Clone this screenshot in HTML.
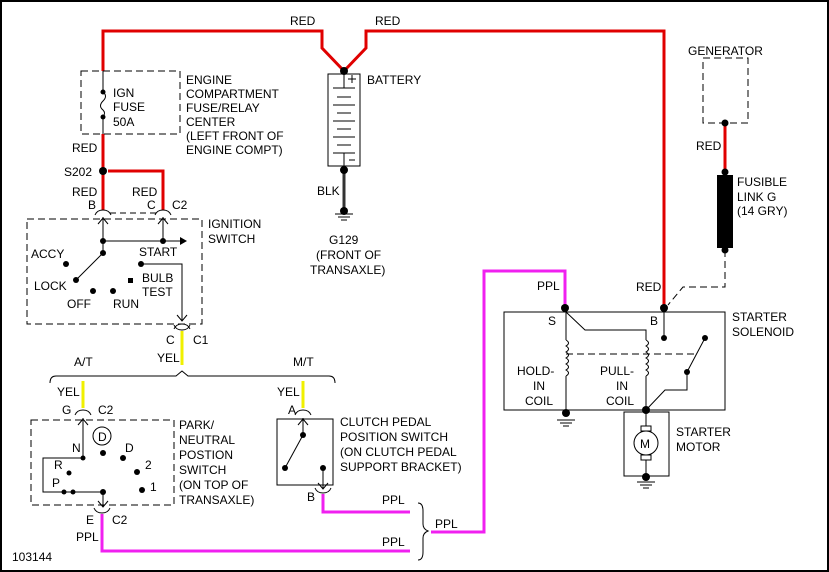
<!DOCTYPE html>
<html><head><style>
html,body{margin:0;padding:0;background:#fff}
svg{display:block}
text{font-family:"Liberation Sans",sans-serif;font-size:12px;fill:#000}
</style></head><body>
<svg width="829" height="572" viewBox="0 0 829 572" xmlns="http://www.w3.org/2000/svg">
<rect x="1" y="1" width="827" height="570" fill="#fff" stroke="#000" stroke-width="2"/>

<!-- RED wires -->
<g fill="none" stroke="#e00000" stroke-width="3">
<polyline points="103,71 103,31 322,31 322,48 344,71 366,48 366,31 664,31 664,308"/>
<line x1="103" y1="134" x2="103" y2="210"/>
<polyline points="108,171 163,171 163,210"/>
<line x1="725" y1="123" x2="725" y2="172"/>
</g>
<!-- Yellow -->
<g stroke="#f0f000" stroke-width="3">
<line x1="182" y1="331" x2="182" y2="365"/>
<line x1="83" y1="381" x2="83" y2="408"/>
<line x1="303" y1="381" x2="303" y2="408"/>
</g>
<!-- Magenta -->
<g fill="none" stroke="#f020f0" stroke-width="3">
<polyline points="431,532 484,532 484,271 565,271 565,308"/>
<polyline points="323,494 323,512 410,512"/>
<polyline points="102,514 102,551 410,551"/>
</g>

<g fill="none" stroke="#000" stroke-width="1">
<!-- fuse box -->
<rect x="81" y="71" width="99" height="63" stroke-dasharray="7,4"/>
<line x1="103" y1="71" x2="103" y2="92"/>
<path d="M103,92 q5,4 0,9 q-5,5 0,9 q3,3 0,7"/>
<line x1="103" y1="117" x2="103" y2="134"/>
<!-- connectors B C top -->
<line x1="110" y1="213" x2="156" y2="213" stroke-dasharray="6,4"/>
<path d="M95,215 q2,-5 8,-5 q6,0 8,5"/><path d="M155,215 q2,-5 8,-5 q6,0 8,5"/>
<!-- ignition switch -->
<rect x="27" y="219" width="175" height="105" stroke-dasharray="7,4"/>
<line x1="103" y1="217" x2="103" y2="253"/><path d="M98,224 l5,-6 l5,6"/>
<line x1="163" y1="217" x2="163" y2="241"/><path d="M158,224 l5,-6 l5,6"/>
<line x1="103" y1="241" x2="182" y2="241"/>
<line x1="103" y1="253" x2="76" y2="280"/>
<polyline points="141,264 182,264 182,321"/><path d="M177,315 l5,6 l5,-6"/>
<path d="M174,329 q2,-5 8,-5 q6,0 8,5"/>
<path d="M174,325 q2,5 8,5 q6,0 8,-5"/>
<!-- bracket AT MT -->
<path d="M50,383 q0,-7 6,-7 L176,376 l6,-5 l6,5 L329,376 q6,0 6,7"/>
<!-- P/N switch -->
<path d="M75,415 q2,-5 8,-5 q6,0 8,5"/>
<rect x="31" y="420" width="143" height="85" stroke-dasharray="7,4"/>
<line x1="83" y1="418" x2="83" y2="458"/><path d="M78,425 l5,-6 l5,6"/>
<circle cx="102" cy="436" r="9"/>
<polyline points="83,458 43,458 43,492 103,492 103,507"/><path d="M98,501 l5,6 l5,-6"/>
<path d="M94,508 q2,5 8,5 q6,0 8,-5"/>
<!-- clutch -->
<path d="M295,415 q2,-5 8,-5 q6,0 8,5"/>
<rect x="277" y="419" width="56" height="66"/>
<line x1="303" y1="418" x2="303" y2="435"/><path d="M298,425 l5,-6 l5,6"/>
<line x1="303" y1="435" x2="285" y2="468"/>
<line x1="323" y1="468" x2="323" y2="489"/><path d="M318,483 l5,6 l5,-6"/>
<path d="M315,488 q2,5 8,5 q6,0 8,-5"/>
<!-- PPL bracket -->
<path d="M418,503 q5,0 5,8 L423,524 q0,5 5,7 q-5,2 -5,7 L423,552 q0,8 -5,8"/>
<!-- battery -->
<rect x="328" y="74" width="32" height="92"/>
<line x1="344" y1="74" x2="344" y2="88"/>
<line x1="333" y1="88" x2="355" y2="88"/>
<line x1="337" y1="97" x2="351" y2="97"/>
<line x1="333" y1="105" x2="355" y2="105"/>
<line x1="337" y1="113" x2="351" y2="113"/>
<line x1="333" y1="121" x2="355" y2="121"/>
<line x1="337" y1="129" x2="351" y2="129"/>
<line x1="333" y1="137" x2="355" y2="137"/>
<line x1="337" y1="145" x2="351" y2="145"/>
<line x1="333" y1="153" x2="355" y2="153"/>
<line x1="344" y1="153" x2="344" y2="166"/>
<line x1="348" y1="79" x2="356" y2="79"/><line x1="352" y1="75" x2="352" y2="83"/>
<line x1="349" y1="160" x2="355" y2="160"/>
<!-- ground batt -->
<line x1="335" y1="214" x2="353" y2="214"/><line x1="338" y1="217" x2="350" y2="217"/><line x1="341" y1="220" x2="347" y2="220"/>
<!-- generator -->
<rect x="703" y="58" width="45" height="65" stroke-dasharray="7,4"/>
<polyline points="725,250 725,287 683,287 668,305" stroke-dasharray="7,4"/>
<!-- solenoid -->
<rect x="504" y="312" width="221" height="98"/>
<line x1="566" y1="312" x2="566" y2="340"/>
<path d="M566,340 q5,3 0,6 q5,3 0,6 q5,3 0,6 q5,3 0,6 q5,3 0,6 q5,3 0,6"/>
<line x1="566" y1="376" x2="566" y2="412"/>
<polyline points="566,312 585,330 646,330 646,340"/>
<path d="M646,340 q5,3 0,6 q5,3 0,6 q5,3 0,6 q5,3 0,6 q5,3 0,6 q5,3 0,6"/>
<line x1="646" y1="376" x2="646" y2="412"/>
<line x1="566" y1="354" x2="697" y2="354" stroke-dasharray="7,4"/>
<line x1="664" y1="312" x2="664" y2="338"/>
<line x1="687" y1="372" x2="705" y2="338"/>
<polyline points="687,372 687,390 665,390 646,410"/>
<!-- motor -->
<rect x="624" y="412" width="45" height="64"/>
<line x1="646" y1="412" x2="646" y2="426"/>
<rect x="641" y="426" width="10" height="5"/>
<circle cx="646" cy="443" r="12"/>
<rect x="641" y="455" width="10" height="5"/>
<line x1="646" y1="460" x2="646" y2="476"/>
<line x1="557" y1="420" x2="575" y2="420"/><line x1="560" y1="423" x2="572" y2="423"/><line x1="563" y1="426" x2="569" y2="426"/>
<line x1="637" y1="482" x2="655" y2="482"/><line x1="640" y1="485" x2="652" y2="485"/><line x1="643" y1="488" x2="649" y2="488"/>
</g>
<line x1="344" y1="166" x2="344" y2="210" stroke="#333" stroke-width="3"/>
<rect x="717" y="175" width="16" height="73" fill="#000"/>
<path d="M182,241 l-7,-4 v8 z" fill="#000" transform="translate(5,0)"/>

<!-- dots -->
<g fill="#000">
<circle cx="344" cy="71" r="4"/><circle cx="344" cy="170" r="4"/><circle cx="344" cy="211" r="4"/>
<circle cx="103" cy="171" r="4"/><circle cx="103" cy="92" r="2.5"/><circle cx="103" cy="117" r="2.5"/>
<circle cx="725" cy="123" r="3.5"/><circle cx="725" cy="172" r="3.5"/><circle cx="725" cy="250" r="3.5"/>
<circle cx="664" cy="308" r="4"/><circle cx="565" cy="308" r="4"/>
<circle cx="103" cy="241" r="3"/><circle cx="163" cy="241" r="3"/><circle cx="103" cy="253" r="3"/>
<circle cx="76" cy="280" r="3"/><circle cx="66" cy="264" r="3"/><circle cx="93" cy="291" r="3"/><circle cx="113" cy="291" r="3"/>
<rect x="128" y="278" width="5" height="5"/><circle cx="141" cy="264" r="3"/>
<circle cx="83" cy="458" r="2.5"/><circle cx="103" cy="453" r="3"/><circle cx="123" cy="458" r="3"/><circle cx="137" cy="472" r="3"/><circle cx="142" cy="490" r="3"/>
<circle cx="69" cy="473" r="2.5"/><circle cx="64" cy="492" r="2.5"/><circle cx="73" cy="492" r="2.5"/><circle cx="103" cy="492" r="3"/>
<circle cx="303" cy="435" r="3"/><circle cx="285" cy="468" r="3"/><circle cx="323" cy="468" r="3"/>
<circle cx="664" cy="338" r="3"/><circle cx="705" cy="338" r="3"/><circle cx="687" cy="372" r="3"/>
<circle cx="646" cy="410" r="4"/><circle cx="566" cy="413" r="4"/><circle cx="646" cy="477" r="4"/>
</g>

<!-- labels -->
<text x="290" y="25">RED</text><text x="375" y="25">RED</text>
<text x="113" y="97">IGN</text><text x="113" y="111">FUSE</text><text x="113" y="126">50A</text>
<text x="186" y="84">ENGINE</text><text x="186" y="98">COMPARTMENT</text><text x="186" y="112">FUSE/RELAY</text><text x="186" y="126">CENTER</text><text x="186" y="140">(LEFT FRONT OF</text><text x="186" y="154">ENGINE COMPT)</text>
<text x="72" y="152">RED</text><text x="64" y="176">S202</text>
<text x="72" y="196">RED</text><text x="132" y="196">RED</text>
<text x="88" y="209">B</text><text x="147" y="209">C</text><text x="172" y="209">C2</text>
<text x="208" y="228">IGNITION</text><text x="208" y="243">SWITCH</text>
<text x="31" y="258">ACCY</text><text x="34" y="290">LOCK</text><text x="67" y="308">OFF</text><text x="113" y="308">RUN</text>
<text x="139" y="256">START</text><text x="142" y="282">BULB</text><text x="142" y="296">TEST</text>
<text x="166" y="344">C</text><text x="193" y="344">C1</text><text x="157" y="362">YEL</text>
<text x="74" y="366">A/T</text><text x="293" y="366">M/T</text>
<text x="57" y="396">YEL</text><text x="62" y="414">G</text><text x="98" y="414">C2</text>
<text x="277" y="396">YEL</text><text x="288" y="414">A</text>
<text x="98" y="441" font-size="11">D</text>
<text x="72" y="452">N</text><text x="125" y="452">D</text><text x="145" y="469">2</text><text x="150" y="491">1</text>
<text x="54" y="469">R</text><text x="52" y="487">P</text>
<text x="179" y="429">PARK/</text><text x="179" y="444">NEUTRAL</text><text x="179" y="459">POSTION</text><text x="179" y="474">SWITCH</text><text x="179" y="489">(ON TOP OF</text><text x="179" y="504">TRANSAXLE)</text>
<text x="340" y="426">CLUTCH PEDAL</text><text x="340" y="441">POSITION SWITCH</text><text x="340" y="456">(ON CLUTCH PEDAL</text><text x="340" y="471">SUPPORT BRACKET)</text>
<text x="307" y="501">B</text>
<text x="86" y="524">E</text><text x="112" y="524">C2</text><text x="76" y="541">PPL</text>
<text x="382" y="504">PPL</text><text x="382" y="546">PPL</text><text x="435" y="528">PPL</text>
<text x="367" y="84">BATTERY</text><text x="317" y="195">BLK</text>
<text x="329" y="244">G129</text><text x="316" y="259">(FRONT OF</text><text x="310" y="274">TRANSAXLE)</text>
<text x="688" y="55">GENERATOR</text><text x="696" y="150">RED</text>
<text x="737" y="186">FUSIBLE</text><text x="737" y="201">LINK G</text><text x="737" y="215">(14 GRY)</text>
<text x="537" y="290">PPL</text><text x="636" y="291">RED</text>
<text x="548" y="325">S</text><text x="650" y="325">B</text>
<text x="732" y="321">STARTER</text><text x="732" y="336">SOLENOID</text>
<text x="517" y="375">HOLD-</text><text x="533" y="390">IN</text><text x="525" y="405">COIL</text>
<text x="600" y="375">PULL-</text><text x="616" y="390">IN</text><text x="606" y="405">COIL</text>
<text x="640" y="448" font-size="13">M</text>
<text x="676" y="436">STARTER</text><text x="676" y="451">MOTOR</text>
<text x="12" y="561">103144</text>
</svg>
</body></html>
